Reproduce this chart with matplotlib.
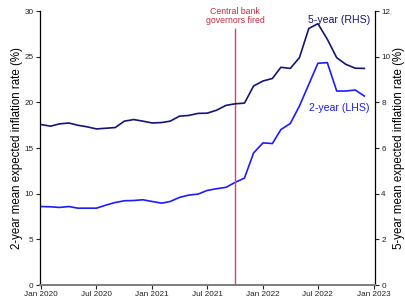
import matplotlib
matplotlib.use("Agg")
import matplotlib.pyplot as plt
import pandas as pd

plt.rcParams['font.family'] = ['Liberation Sans', 'DejaVu Sans']

months = pd.date_range('2020-01-01', periods=36, freq='MS')
two_year = [8.60, 8.57, 8.50, 8.60, 8.42, 8.42, 8.42, 8.75, 9.04, 9.23,
            9.26, 9.34, 9.15, 8.97, 9.15, 9.60, 9.85, 9.96, 10.36, 10.55,
            10.70, 11.24, 11.72, 14.47, 15.57, 15.50, 17.03, 17.69, 19.60, 21.98,
            24.29, 24.36, 21.25, 21.25, 21.36, 20.70]
five_year = [7.03, 6.96, 7.06, 7.10, 7.00, 6.93, 6.84, 6.87, 6.90, 7.18,
             7.25, 7.18, 7.10, 7.12, 7.18, 7.40, 7.43, 7.52, 7.53, 7.66,
             7.87, 7.94, 7.97, 8.72, 8.94, 9.05, 9.54, 9.49, 9.96, 11.24,
             11.45, 10.77, 9.96, 9.67, 9.50, 9.49]
event_date = pd.Timestamp('2021-10-01')
event_text = "Central bank\ngovernors fired"
tick_dates = pd.date_range('2020-01-01', '2023-01-01', freq='6MS')
tick_labels = [d.strftime('%b %Y') for d in tick_dates]

c2 = '#1c1cff'
c5 = '#14147a'
red = '#c82840'

fig = plt.figure(figsize=(4.06, 3.01), dpi=100)
ax = fig.add_axes([0.0985, 0.053, 0.825, 0.910])
ax2 = ax.twinx()

ax.plot(months, two_year, color=c2, lw=1.2)
ax2.plot(months, five_year, color=c5, lw=1.2)

ax.axvline(event_date, color='#d04868', lw=1.0, ymax=0.934)
ax.text(event_date, 30.45, event_text, color=red, fontsize=6.3,
        ha='center', va='top', linespacing=0.95)

ax.set_ylim(0, 30)
ax2.set_ylim(0, 12)
ax.set_yticks(range(0, 31, 5))
ax2.set_yticks(range(0, 13, 2))
ax.set_xlim(pd.Timestamp('2019-12-28'), pd.Timestamp('2023-01-05'))
ax.set_xticks(tick_dates)
ax.set_xticklabels(tick_labels)

ax2.text(0.985, 0.985, "5-year (RHS)", transform=ax.transAxes, color=c5,
         fontsize=7.6, ha='right', va='top')
ax.text(0.985, 0.665, "2-year (LHS)", transform=ax.transAxes, color=c2,
        fontsize=7.6, ha='right', va='top')

ax.set_ylabel("2-year mean expected inflation rate (%)", fontsize=8.3, labelpad=1)
ax2.set_ylabel("5-year mean expected inflation rate (%)", fontsize=8.3, labelpad=2)

for a in (ax, ax2):
    a.spines['top'].set_visible(False)
    a.tick_params(labelsize=5.9, length=3, width=0.8, pad=1.5, colors='#222222')
    a.spines['bottom'].set_color('#808080')
    a.spines['bottom'].set_linewidth(1.4)
    a.spines['left'].set_linewidth(0.9)
    a.spines['right'].set_linewidth(0.9)
ax.spines['right'].set_visible(False)
ax2.spines['left'].set_visible(False)

fig.savefig('out.png', dpi=100)
